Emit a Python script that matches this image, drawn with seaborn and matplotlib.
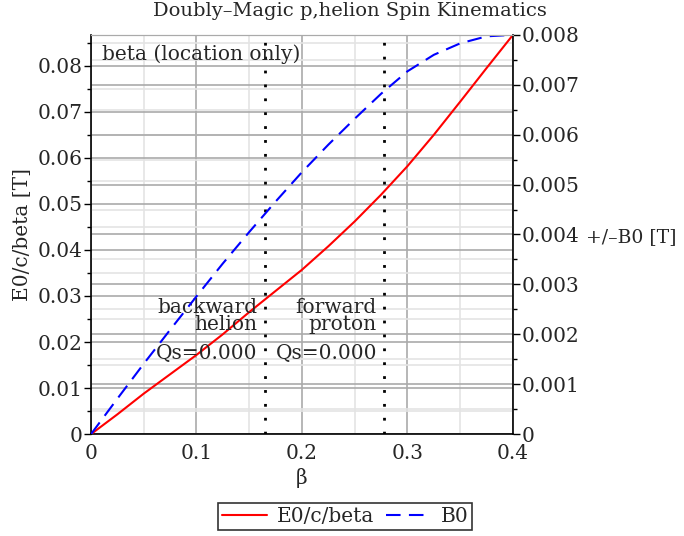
import numpy as np
import pandas as pd
import seaborn as sns
import matplotlib.pyplot as plt
import matplotlib.transforms as mtransforms
from matplotlib.ticker import MultipleLocator

# values
beta = [0.0, 0.025, 0.05, 0.075, 0.1, 0.125, 0.15, 0.175, 0.2,
        0.225, 0.25, 0.275, 0.3, 0.325, 0.35, 0.375, 0.4]
e0_c_beta = [0.0, 0.0043, 0.0088, 0.0130, 0.0172, 0.0217, 0.0265, 0.0311, 0.0357,
             0.0408, 0.0462, 0.0520, 0.0582, 0.0650, 0.0722, 0.0795, 0.0867]
b0 = [0.0, 0.00071, 0.00141, 0.00209, 0.00276, 0.00342, 0.00405, 0.00466, 0.00525,
      0.00580, 0.00632, 0.00682, 0.00727, 0.00760, 0.00783, 0.00797, 0.00800]
beta_marks = [0.165, 0.278]
mark_labels = ["backward\nhelion", "forward\nproton"]
qs_labels = ["Qs=0.000", "Qs=0.000"]

df = pd.DataFrame({'beta': beta, 'E0/c/beta': e0_c_beta, 'B0': b0})

sns.set_style("white")
plt.rcParams['font.family'] = ['DejaVu Serif']
plt.rcParams['font.size'] = 14.5

fig = plt.figure(figsize=(6.84, 5.36), dpi=100)
ax = fig.add_axes([0.133, 0.19, 0.617, 0.745])
ax2 = ax.twinx()

ax.xaxis.set_major_locator(MultipleLocator(0.1))
ax.xaxis.set_minor_locator(MultipleLocator(0.05))
ax.yaxis.set_minor_locator(MultipleLocator(0.005))
ax2.yaxis.set_minor_locator(MultipleLocator(0.0005))

ax.set_xlim(0, 0.4)
ax.set_ylim(0, 0.0867)
ax2.set_ylim(0, 0.008)
ax.set_yticks(np.arange(0, 0.081, 0.01))
ax.set_yticklabels(['0'] + ['%.2f' % v for v in np.arange(0.01, 0.081, 0.01)])
ax2.set_yticks(np.arange(0, 0.0081, 0.001))
ax2.set_yticklabels(['0'] + ['%.3f' % v for v in np.arange(0.001, 0.0081, 0.001)])
ax.set_xticks([0, 0.1, 0.2, 0.3, 0.4])
ax.set_xticklabels(['0', '0.1', '0.2', '0.3', '0.4'])

# grid of the left scale on ax, grid of the right scale drawn on ax too
ax.set_axisbelow(True)
ax.grid(which='major', color='#aaaaaa', lw=1.2)
ax.grid(which='minor', color='#e4e4e4', lw=1.2)
ax2.grid(False)
right_tr = mtransforms.blended_transform_factory(ax.transAxes, ax2.transData)
for yv in ax2.yaxis.get_minorticklocs():
    ax.plot([0, 1], [yv, yv], transform=right_tr, color='#e4e4e4', lw=1.2, zorder=0.6)
for yv in ax2.get_yticks():
    ax.plot([0, 1], [yv, yv], transform=right_tr, color='#aaaaaa', lw=1.2, zorder=0.7)

sns.lineplot(data=df, x='beta', y='E0/c/beta', ax=ax, color='red', lw=1.5,
             label='E0/c/beta', legend=False, zorder=3)
sns.lineplot(data=df, x='beta', y='B0', ax=ax2, color='blue', lw=1.5,
             label='B0', legend=False)
ax2.lines[0].set_dashes([7, 4])
ax.set_xlim(0, 0.4)
ax.set_ylim(0, 0.0867)
ax2.set_ylim(0, 0.008)

for xm in beta_marks:
    ax.axvline(xm, color='black', ls=(0, (1, 4)), lw=2, zorder=2)

for xm, lab, qs in zip(beta_marks, mark_labels, qs_labels):
    ax.text(xm - 0.007, 0.0257, lab, ha='right', va='center', linespacing=0.85, zorder=4)
    ax.text(xm - 0.007, 0.0176, qs, ha='right', va='center', zorder=4)

ax.text(0.01, 0.0826, 'beta (location only)', ha='left', va='center', zorder=4)

ax.tick_params(axis='both', which='major', direction='out', length=5, width=1, color='black')
ax.tick_params(axis='both', which='minor', direction='out', length=3, width=1, color='black')
ax2.tick_params(axis='y', which='major', direction='out', length=5, width=1, color='black', pad=1)
ax2.tick_params(axis='y', which='minor', direction='out', length=3, width=1, color='black')
ax.tick_params(axis='y', pad=1)
ax.tick_params(axis='x', pad=2)

for s in ('left', 'bottom'):
    ax.spines[s].set_color('black')
    ax.spines[s].set_linewidth(1.2)
ax2.spines['right'].set_color('black')
ax2.spines['right'].set_linewidth(1.2)
for a in (ax, ax2):
    a.spines['top'].set_color('#aaaaaa')
ax.spines['right'].set_visible(False)
ax2.spines['left'].set_visible(False)
ax2.spines['bottom'].set_visible(False)

ax.set_xlabel('β', labelpad=4)
ax.set_ylabel('E0/c/beta [T]', labelpad=4)
ax2.set_ylabel('')
fig.text(0.856, 0.558, '+/–B0 [T]', ha='left', va='center', fontsize=13.5)
fig.suptitle('Doubly–Magic p,helion Spin Kinematics', x=0.512, y=0.997, va='top', fontsize=14)

handles = [l for l in ax.get_lines() if l.get_label() == 'E0/c/beta'] + ax2.get_lines()[:1]
leg = fig.legend(handles, ['E0/c/beta', 'B0'], loc='center', bbox_to_anchor=(0.505, 0.036),
                 ncol=2, frameon=True, fancybox=False, edgecolor='black',
                 handlelength=2.2, columnspacing=0.6, borderpad=0.2, handletextpad=0.5)
leg.get_frame().set_linewidth(1.2)

fig.savefig('out.png', dpi=100)
